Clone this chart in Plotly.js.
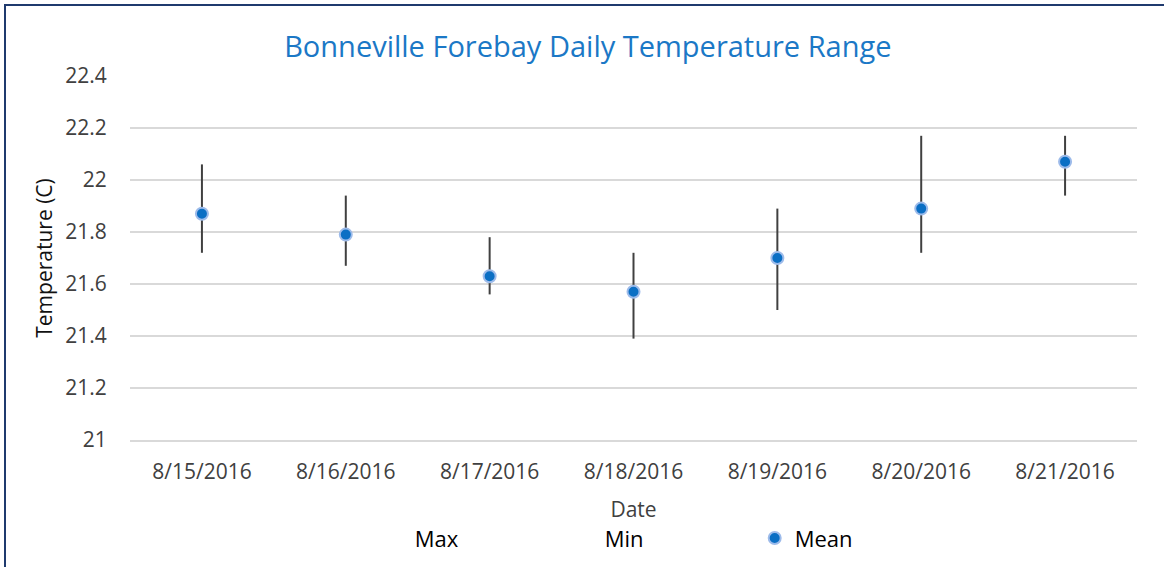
<!DOCTYPE html>
<html>
<head>
<meta charset="utf-8">
<script src="https://cdn.plot.ly/plotly-3.0.1.min.js"></script>
<style>
  html, body { margin: 0; padding: 0; background: #fff; overflow: hidden; }
  #frame { position: absolute; left: 4px; top: 4px; width: 1300px; height: 700px;
           border-top: 2px solid #1F3A6E; border-left: 2px solid #1F3A6E; }
  #chart { position: absolute; left: 0; top: 0; width: 1164px; height: 567px; }
</style>
</head>
<body>
<div id="frame"></div>
<div id="chart"></div>
<script>
const dates = ["8/15/2016", "8/16/2016", "8/17/2016", "8/18/2016", "8/19/2016", "8/20/2016", "8/21/2016"];
const maxTemp  = [22.06, 21.94, 21.78, 21.72, 21.89, 22.17, 22.17];
const minTemp  = [21.72, 21.67, 21.56, 21.39, 21.50, 21.72, 21.94];
const meanTemp = [21.87, 21.79, 21.63, 21.57, 21.70, 21.89, 22.07];
const yTicks = [21, 21.2, 21.4, 21.6, 21.8, 22, 22.2, 22.4];

const font = "Open Sans, Noto Sans, sans-serif";
const textColor = "#404040";

const traces = [
  {
    type: "scatter", mode: "markers", name: "Max", x: dates, y: maxTemp,
    marker: { color: "rgba(0,0,0,0)", size: 1 }, hoverinfo: "skip"
  },
  {
    type: "scatter", mode: "markers", name: "Min", x: dates, y: minTemp,
    marker: { color: "rgba(0,0,0,0)", size: 1 }, hoverinfo: "skip"
  },
  {
    type: "scatter", mode: "markers", name: "Mean", x: dates, y: meanTemp,
    marker: { color: "#0B6FC4", size: 12, line: { color: "#9DBBEA", width: 2 } },
    error_y: {
      type: "data", symmetric: false,
      array: maxTemp.map((v, i) => v - meanTemp[i]),
      arrayminus: meanTemp.map((v, i) => v - minTemp[i]),
      width: 0, thickness: 2, color: "#404040"
    }
  }
];

const layout = {
  width: 1164, height: 567,
  paper_bgcolor: "rgba(0,0,0,0)", plot_bgcolor: "rgba(0,0,0,0)",
  margin: { l: 130, r: 27, t: 76, b: 127, autoexpand: false },
  font: { family: font, color: textColor, size: 21 },
  title: {
    text: "Bonneville Forebay Daily Temperature Range",
    font: { family: font, size: 29, color: "#1B78C6" },
    x: 0.505, xanchor: "center", y: 0.918, yanchor: "middle"
  },
  xaxis: {
    type: "category", range: [-0.5, 6.5], autorange: false,
    showgrid: false, zeroline: false,
    showline: true, linecolor: "#D9D9D9", linewidth: 2,
    ticks: "outside", ticklen: 12, tickcolor: "rgba(0,0,0,0)",
    tickfont: { family: font, size: 21, color: textColor },
    title: { text: "Date", font: { family: font, size: 21, color: textColor }, standoff: 18 }
  },
  yaxis: {
    range: [21, 22.4], autorange: false, tickvals: yTicks, ticktext: yTicks.map(String),
    showgrid: true, gridcolor: "#D9D9D9", gridwidth: 2, zeroline: false, showline: false,
    ticks: "outside", ticklen: 18, tickcolor: "rgba(0,0,0,0)",
    tickfont: { family: font, size: 21, color: textColor },
    title: { text: "Temperature (C)", font: { family: font, size: 21, color: "#111" }, standoff: 6 }
  },
  showlegend: true,
  legend: {
    orientation: "h", x: 0.243, xanchor: "left", y: -0.212, yanchor: "top",
    entrywidth: 145, entrywidthmode: "pixels",
    font: { family: font, size: 22, color: "#000" },
    bgcolor: "rgba(0,0,0,0)"
  }
};

Plotly.newPlot("chart", traces, layout, { displayModeBar: false, staticPlot: true });
</script>
</body>
</html>
